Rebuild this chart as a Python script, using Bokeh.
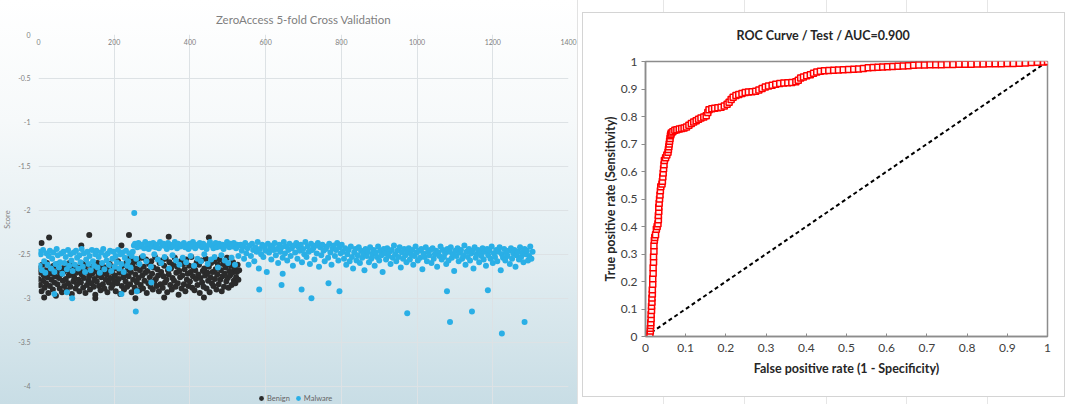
from bokeh.plotting import figure
from bokeh.layouts import row, column
from bokeh.models import FixedTicker, Legend, LegendItem, Range1d
from bokeh.embed import file_html
from bokeh.resources import INLINE

# ---------------- Left chart data ----------------
left_title = "ZeroAccess 5-fold Cross Validation"
x_ticks = [0, 200, 400, 600, 800, 1000, 1200, 1400]
y_ticks = [0, -0.5, -1, -1.5, -2, -2.5, -3, -3.5, -4]
y_tick_labels = ["0", "-0.5", "-1", "-1.5", "-2", "-2.5", "-3", "-3.5", "-4"]

benign_x = list(range(0, 531, 2))
benign_y = [
    -2.78, -2.66, -2.85, -2.71, -2.92, -2.62, -2.80, -2.74, -2.88, -2.68,
    -2.83, -2.60, -2.76, -2.94, -2.70, -2.86, -2.65, -2.79, -2.72, -2.90,
    -2.63, -2.82, -2.75, -2.97, -2.69, -2.84, -2.61, -2.77, -2.89, -2.73,
    -2.66, -2.93, -2.80, -2.70, -2.86, -2.64, -2.78, -2.91, -2.68, -2.83,
    -2.74, -2.60, -2.87, -2.72, -2.95, -2.67, -2.81, -2.76, -2.63, -2.89,
    -2.71, -2.84, -2.65, -2.79, -2.92, -2.69, -2.82, -2.73, -2.61, -2.88,
    -2.77, -2.66, -2.94, -2.70, -2.85, -2.62, -2.80, -2.75, -2.90, -2.68,
    -2.83, -2.72, -2.64, -2.87, -2.78, -2.96, -2.69, -2.81, -2.60, -2.74,
    -2.86, -2.67, -2.91, -2.76, -2.63, -2.84, -2.71, -2.89, -2.65, -2.79,
    -2.73, -2.93, -2.68, -2.82, -2.61, -2.77, -2.88, -2.70, -2.85, -2.64,
    -2.80, -2.74, -2.92, -2.66, -2.83, -2.58, -2.78, -2.71, -2.95, -2.69,
    -2.86, -2.63, -2.76, -2.90, -2.72, -2.81, -2.60, -2.87, -2.67, -2.75,
    -2.55, -2.84, -2.70, -2.93, -2.62, -2.79, -2.57, -2.88, -2.73, -2.66,
    -2.82, -2.59, -2.77, -2.91, -2.68, -2.85, -2.54, -2.74, -2.89, -2.64,
    -2.80, -2.71, -2.56, -2.94, -2.69, -2.83, -2.61, -2.76, -2.87, -2.58,
    -2.72, -2.90, -2.65, -2.81, -2.53, -2.78, -2.86, -2.67, -2.74, -2.92,
    -2.60, -2.84, -2.70, -2.57, -2.88, -2.75, -2.63, -2.82, -2.55, -2.79,
    -2.93, -2.68, -2.73, -2.59, -2.85, -2.66, -2.90, -2.77, -2.62, -2.80,
    -2.54, -2.87, -2.71, -2.64, -2.83, -2.96, -2.69, -2.76, -2.58, -2.89,
    -2.74, -2.61, -2.84, -2.67, -2.92, -2.56, -2.79, -2.72, -2.86, -2.63,
    -2.81, -2.70, -2.53, -2.88, -2.75, -2.65, -2.91, -2.68, -2.78, -2.59,
    -2.85, -2.73, -2.62, -2.94, -2.77, -2.57, -2.82, -2.69, -2.87, -2.66,
    -2.74, -2.55, -2.89, -2.71, -2.80, -2.64, -2.93, -2.76, -2.60, -2.83,
    -2.70, -2.86, -2.58, -2.78, -2.67, -2.90, -2.73, -2.62, -2.84, -2.56,
    -2.79, -2.68, -2.92, -2.75, -2.61, -2.87, -2.72, -2.65, -2.81, -2.54,
    -2.77, -2.88, -2.69, -2.74, -2.63, -2.85, -2.71, -2.59, -2.80, -2.66,
    -2.83, -2.76, -2.70, -2.62, -2.79, -2.68,
]
benign_out_x = [8, 15, 28, 113, 134, 150, 219, 239, 256, 332, 344, 437, 450]
benign_out_y = [-2.37, -2.99, -2.31, -2.40, -2.28, -3.0, -2.40, -2.28, -3.0, -2.99, -2.30, -2.99, -2.31]

malware_x = list(range(0, 1306, 3))
malware_y_a = [
    -2.47, -2.63, -2.50, -2.68, -2.45, -2.58, -2.71, -2.49, -2.62, -2.52,
    -2.46, -2.66, -2.55, -2.48, -2.70, -2.61, -2.44, -2.51, -2.65, -2.59,
    -2.49, -2.72, -2.47, -2.60, -2.53, -2.67, -2.45, -2.63, -2.50, -2.57,
    -2.69, -2.48, -2.62, -2.46, -2.54, -2.66, -2.51, -2.59, -2.44, -2.64,
    -2.49, -2.70, -2.56, -2.47, -2.61, -2.52, -2.68, -2.45, -2.58, -2.63,
    -2.50, -2.46, -2.65, -2.53, -2.71, -2.48, -2.60, -2.44, -2.67, -2.51,
    -2.57, -2.49, -2.62, -2.46, -2.69, -2.55, -2.47, -2.64, -2.52, -2.59,
    -2.45, -2.66, -2.50, -2.61, -2.48, -2.70, -2.54, -2.46, -2.63, -2.58,
    -2.49, -2.65, -2.52, -2.47,
]
malware_y_b = [
    -2.40, -2.38, -2.55, -2.42, -2.37, -2.61, -2.41, -2.39, -2.52, -2.43,
    -2.36, -2.58, -2.40, -2.44, -2.38, -2.64, -2.41, -2.37, -2.50, -2.42,
    -2.39, -2.56, -2.43, -2.36, -2.60, -2.40, -2.38, -2.53, -2.41, -2.44,
    -2.37, -2.66, -2.39, -2.42, -2.51, -2.40, -2.36, -2.57, -2.43, -2.38,
    -2.62, -2.41, -2.39, -2.54, -2.37, -2.42, -2.59, -2.40, -2.44, -2.38,
    -2.52, -2.41, -2.36, -2.63, -2.43, -2.39, -2.55, -2.40, -2.37, -2.58,
    -2.42, -2.38, -2.50, -2.41, -2.44, -2.61, -2.39, -2.36, -2.56, -2.40,
    -2.43, -2.53, -2.37, -2.42, -2.65, -2.38, -2.41, -2.51, -2.39, -2.44,
    -2.57, -2.40, -2.36, -2.60, -2.42, -2.38, -2.54, -2.41, -2.37, -2.62,
    -2.43, -2.39, -2.52, -2.40,
]
malware_y_c = [
    -2.39, -2.46, -2.41, -2.55, -2.37, -2.49, -2.43, -2.62, -2.40, -2.52,
    -2.38, -2.45, -2.58, -2.42, -2.47, -2.36, -2.66, -2.44, -2.50, -2.39,
    -2.53, -2.41, -2.46, -2.70, -2.38, -2.48, -2.43, -2.56, -2.40, -2.45,
    -2.37, -2.51, -2.44, -2.60, -2.39, -2.47, -2.42, -2.54, -2.36, -2.49,
    -2.41, -2.57, -2.45, -2.38, -2.52, -2.43, -2.63, -2.40, -2.48, -2.37,
    -2.55, -2.42, -2.46, -2.39, -2.59, -2.44, -2.50, -2.36, -2.53, -2.41,
    -2.47, -2.61, -2.38, -2.45, -2.43, -2.56, -2.40, -2.49, -2.37, -2.64,
    -2.42, -2.51, -2.39, -2.46, -2.58, -2.44, -2.41, -2.54, -2.38, -2.48,
    -2.62, -2.43, -2.40, -2.52, -2.45, -2.37, -2.57, -2.42, -2.49, -2.39,
]
malware_y_d = [
    -2.47, -2.55, -2.43, -2.62, -2.50, -2.45, -2.58, -2.41, -2.53, -2.66,
    -2.48, -2.44, -2.57, -2.51, -2.42, -2.60, -2.46, -2.54, -2.49, -2.68,
    -2.44, -2.52, -2.47, -2.59, -2.42, -2.55, -2.50, -2.45, -2.63, -2.48,
    -2.53, -2.41, -2.57, -2.46, -2.51, -2.70, -2.44, -2.49, -2.56, -2.43,
    -2.52, -2.47, -2.61, -2.45, -2.54, -2.40, -2.50, -2.58, -2.46, -2.53,
    -2.42, -2.65, -2.48, -2.55, -2.44, -2.51, -2.59, -2.47, -2.43, -2.56,
    -2.50, -2.45, -2.62, -2.52, -2.41, -2.48, -2.57, -2.46, -2.54, -2.44,
    -2.67, -2.49, -2.53, -2.42, -2.58, -2.47, -2.51, -2.45, -2.60, -2.43,
    -2.55, -2.50, -2.46, -2.64, -2.48, -2.52, -2.41, -2.56, -2.45, -2.53,
    -2.49, -2.61, -2.44, -2.57, -2.47, -2.42, -2.54, -2.50, -2.69, -2.46,
    -2.52, -2.43, -2.58, -2.48, -2.45, -2.55, -2.51, -2.40, -2.62, -2.47,
    -2.53, -2.44, -2.57, -2.49, -2.46, -2.66, -2.42, -2.54, -2.50, -2.45,
    -2.59, -2.48, -2.52, -2.43, -2.56, -2.47, -2.63, -2.44, -2.51, -2.46,
    -2.55, -2.41, -2.60, -2.49, -2.53, -2.45, -2.58, -2.47, -2.42, -2.68,
    -2.50, -2.54, -2.44, -2.57, -2.48, -2.52, -2.46, -2.61, -2.43, -2.55,
    -2.49, -2.45, -2.64, -2.51, -2.47, -2.56, -2.42, -2.53, -2.48, -2.59,
    -2.44, -2.50, -2.46, -2.57, -2.52, -2.41, -2.55, -2.47,
]
malware_y = malware_y_a + malware_y_b + malware_y_c + malware_y_d
malware_out_x = [42, 75, 89, 219, 253, 257, 260, 298, 583, 642, 645, 695, 721, 766,
                 795, 974, 1079, 1087, 1145, 1187, 1224, 1284]
malware_out_y = [-2.95, -2.93, -3.0, -2.95, -2.03, -3.15, -2.92, -2.82, -2.9, -2.85, -2.72,
                 -2.9, -3.0, -2.83, -2.92, -3.17, -2.92, -3.27, -3.15, -2.91, -3.4, -3.27]

# ---------------- Right chart data ----------------
roc_title = "ROC Curve / Test / AUC=0.900"
roc_ticks = [0, 0.1, 0.2, 0.3, 0.4, 0.5, 0.6, 0.7, 0.8, 0.9, 1]
roc_tick_labels = ["0", "0.1", "0.2", "0.3", "0.4", "0.5", "0.6", "0.7", "0.8", "0.9", "1"]
diag_x = [0, 1]
diag_y = [0, 1]
fpr = [0, 0.003, 0.006, 0.009, 0.011, 0.012, 0.012, 0.013, 0.013, 0.014, 0.014, 0.015, 0.015,
       0.016, 0.016, 0.017, 0.017, 0.018, 0.018, 0.019, 0.019, 0.02, 0.02, 0.021, 0.021,
       0.022, 0.023, 0.025, 0.027, 0.029, 0.031, 0.032, 0.032, 0.033, 0.033, 0.034, 0.035,
       0.036, 0.037, 0.038, 0.041, 0.042, 0.043, 0.044, 0.045, 0.046, 0.047, 0.05, 0.053,
       0.056, 0.057, 0.058, 0.059, 0.06, 0.061, 0.062, 0.063, 0.064, 0.068,
       0.073, 0.078, 0.084, 0.09, 0.096, 0.102, 0.108, 0.114, 0.12, 0.126, 0.132, 0.138,
       0.145, 0.151, 0.155, 0.158, 0.165, 0.172, 0.18, 0.188, 0.196, 0.203, 0.208, 0.213,
       0.218, 0.225, 0.232, 0.24, 0.248, 0.256, 0.265, 0.274, 0.282, 0.29, 0.298, 0.306,
       0.315, 0.324, 0.334, 0.344, 0.354, 0.364, 0.374, 0.38, 0.386, 0.393, 0.401, 0.41,
       0.418, 0.426, 0.435, 0.445, 0.456, 0.468, 0.48, 0.492, 0.505, 0.518, 0.53, 0.542,
       0.554, 0.566, 0.578, 0.59, 0.602, 0.615, 0.628, 0.641, 0.654, 0.667, 0.68, 0.694,
       0.708, 0.722, 0.736, 0.75, 0.765, 0.78, 0.795, 0.81, 0.825, 0.84, 0.855, 0.87,
       0.885, 0.9, 0.915, 0.93, 0.945, 0.96, 0.975, 0.99, 1.0]
tpr = [0, 0, 0, 0, 0.01, 0.02, 0.03, 0.04, 0.05, 0.065, 0.08, 0.095, 0.11,
       0.125, 0.14, 0.155, 0.17, 0.19, 0.21, 0.23, 0.25, 0.27, 0.29, 0.31, 0.33,
       0.35, 0.36, 0.37, 0.39, 0.40, 0.41, 0.425, 0.44, 0.455, 0.47, 0.485, 0.50,
       0.515, 0.53, 0.545, 0.555, 0.565, 0.58, 0.595, 0.61, 0.625, 0.64, 0.65, 0.66,
       0.67, 0.68, 0.69, 0.70, 0.71, 0.72, 0.73, 0.735, 0.74, 0.745,
       0.75, 0.752, 0.755, 0.756, 0.758, 0.762, 0.768, 0.775, 0.78, 0.785, 0.79, 0.795,
       0.798, 0.803, 0.815, 0.825, 0.828, 0.83, 0.832, 0.834, 0.838, 0.845, 0.852, 0.862,
       0.87, 0.876, 0.88, 0.884, 0.887, 0.889, 0.89, 0.892, 0.896, 0.902, 0.907, 0.911,
       0.914, 0.917, 0.92, 0.922, 0.923, 0.924, 0.926, 0.932, 0.94, 0.944, 0.948, 0.952,
       0.957, 0.962, 0.965, 0.966, 0.967, 0.968, 0.969, 0.97, 0.971, 0.972, 0.973, 0.975,
       0.977, 0.978, 0.979, 0.98, 0.981, 0.982, 0.983, 0.984, 0.985, 0.986, 0.987, 0.987,
       0.988, 0.988, 0.988, 0.989, 0.989, 0.99, 0.99, 0.99, 0.991, 0.991, 0.992, 0.992,
       0.992, 0.993, 0.993, 0.994, 0.995, 0.996, 0.997, 0.998, 1.0]

# ---------------- Left chart ----------------
GRAY = "#7f7f7f"
left = figure(width=577, height=404, x_range=Range1d(0, 1400), y_range=Range1d(-4.208, 0),
              x_axis_location="above", y_axis_location="left",
              output_backend="svg", toolbar_location=None,
              min_border_left=36, min_border_right=9, min_border_top=34, min_border_bottom=0)
left.background_fill_color = None
left.border_fill_color = None
left.outline_line_color = None
left.styles = {"background": "linear-gradient(180deg, #ffffff 0%, #f6f9fa 30%, #e2edf1 65%, #c8dde5 100%)"}

left.title.text = left_title
left.title.align = "center"
left.title.text_font = "Lato"
left.title.text_font_style = "normal"
left.title.text_font_size = "11.5px"
left.title.text_color = GRAY
left.title.standoff = 17

left.xaxis.ticker = FixedTicker(ticks=x_ticks)
left.yaxis.ticker = FixedTicker(ticks=y_ticks)
left.yaxis.major_label_overrides = {t: s for t, s in zip(y_ticks, y_tick_labels)}
for ax in (left.xaxis[0], left.yaxis[0]):
    ax.axis_line_color = None
    ax.major_tick_line_color = None
    ax.minor_tick_line_color = None
    ax.major_tick_in = 0
    ax.major_tick_out = 0
    ax.minor_tick_in = 0
    ax.minor_tick_out = 0
    ax.major_label_text_font = "Lato"
    ax.major_label_text_font_size = "7px"
    ax.major_label_text_color = GRAY
left.xaxis.major_label_standoff = -10
left.yaxis.major_label_standoff = 8
left.yaxis.axis_label = "Score"
left.yaxis.axis_label_text_font = "Lato"
left.yaxis.axis_label_text_font_size = "7.5px"
left.yaxis.axis_label_text_font_style = "normal"
left.yaxis.axis_label_text_color = GRAY
left.yaxis.axis_label_standoff = 3
left.xgrid.ticker = FixedTicker(ticks=x_ticks)
left.ygrid.ticker = FixedTicker(ticks=y_ticks)
left.grid.grid_line_color = "#dde2e5"
left.grid.grid_line_width = 1

BENIGN = "#2b2b2b"
MALWARE = "#2aafe6"
rb = left.scatter(benign_x, benign_y, size=6, color=BENIGN, line_color=None)
left.scatter(benign_out_x, benign_out_y, size=6, color=BENIGN, line_color=None)
rm = left.scatter(malware_x, malware_y, size=6, color=MALWARE, line_color=None)
left.scatter(malware_out_x, malware_out_y, size=6, color=MALWARE, line_color=None)

legend = Legend(items=[LegendItem(label="Benign", renderers=[rb]),
                       LegendItem(label="Malware", renderers=[rm])],
                orientation="horizontal", location=(217, 0))
legend.background_fill_color = None
legend.border_line_color = None
legend.label_text_font = "Lato"
legend.label_text_font_size = "7.5px"
legend.label_text_color = "#666666"
legend.glyph_width = 12
legend.glyph_height = 12
legend.label_standoff = 0
legend.spacing = 2
legend.padding = 0
legend.margin = 0
legend.label_height = 10
left.add_layout(legend)

# ---------------- Right chart ----------------
DARK = "#404040"
LINE = "linear-gradient(#d4d4d4, #d4d4d4)"
CELL = "linear-gradient(#e6e6e6, #e6e6e6)"
bg_layers = [
    LINE + " 5px 12px / 483px 1px no-repeat",
    LINE + " 5px 396px / 483px 1px no-repeat",
    LINE + " 5px 12px / 1px 385px no-repeat",
    LINE + " 487px 12px / 1px 385px no-repeat",
    "linear-gradient(#e2e2e2, #e2e2e2) 0px 0px / 1px 404px no-repeat",
]
for cx in (86, 167, 249, 329, 410):
    bg_layers.append(CELL + " %dpx 0px / 1px 12px no-repeat" % cx)
    bg_layers.append(CELL + " %dpx 397px / 1px 7px no-repeat" % cx)
right_bg = ", ".join(bg_layers) + ", #ffffff"

right = figure(width=490, height=404, x_range=Range1d(0, 1), y_range=Range1d(0, 1),
               output_backend="svg", toolbar_location=None,
               min_border_left=68, min_border_right=20, min_border_top=61, min_border_bottom=68)
right.background_fill_color = "white"
right.border_fill_color = None
right.styles = {"background": right_bg}
right.outline_line_color = "#8c8c8c"
right.outline_line_width = 1.5
right.grid.grid_line_color = None

right.title.text = roc_title
right.title.align = "left"
right.title.offset = 91
right.title.standoff = 37
right.title.text_font = "Lato"
right.title.text_font_style = "bold"
right.title.text_font_size = "12.5px"
right.title.text_color = "#262626"

right.xaxis.ticker = FixedTicker(ticks=roc_ticks)
right.yaxis.ticker = FixedTicker(ticks=roc_ticks)
right.xaxis.major_label_overrides = {t: s for t, s in zip(roc_ticks, roc_tick_labels)}
right.yaxis.major_label_overrides = {t: s for t, s in zip(roc_ticks, roc_tick_labels)}
for ax in (right.xaxis[0], right.yaxis[0]):
    ax.axis_line_color = "#8c8c8c"
    ax.axis_line_width = 1.5
    ax.major_tick_line_color = "#8c8c8c"
    ax.minor_tick_line_color = None
    ax.major_label_text_font = "Lato"
    ax.major_label_text_font_size = "12px"
    ax.major_label_text_color = DARK
    ax.axis_label_text_font = "Lato"
    ax.axis_label_text_font_size = "12.5px"
    ax.axis_label_text_font_style = "bold"
    ax.axis_label_text_color = "#262626"
right.xaxis.major_tick_in = 3
right.xaxis.major_tick_out = 0
right.xaxis.major_label_standoff = 7
right.yaxis.major_tick_in = 0
right.yaxis.major_tick_out = 4
right.yaxis.major_label_standoff = 4
right.xaxis.axis_label = "False positive rate (1 - Specificity)"
right.yaxis.axis_label = "True positive rate (Sensitivity)"
right.xaxis.axis_label_standoff = 6
right.yaxis.axis_label_standoff = 0

right.line(diag_x, diag_y, line_color="black", line_width=2, line_dash="4 3")
right.line(fpr, tpr, line_color="#ff0000", line_width=2)
right.scatter(fpr, tpr, marker="square", size=6, fill_color="#fff4f4", line_color="#ff0000", line_width=1.5)

layout = row(column(left), column(right))
open("out.html", "w").write(file_html(layout, INLINE))
